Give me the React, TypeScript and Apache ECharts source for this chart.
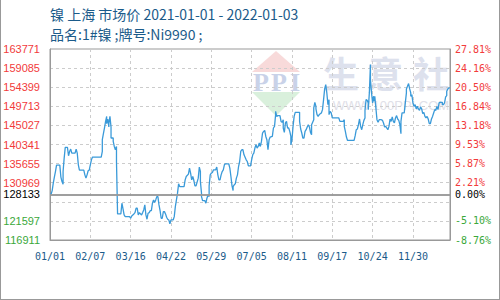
import React, { useEffect, useRef } from 'react';
import * as echarts from 'echarts';

const titleText = '镍 上海 市场价 2021-01-01 - 2022-01-03';
const subTitleText = '品名:1#镍 ;牌号:Ni9990 ;';
const startDate = [2021, 0, 1];
const totalDays = 368; // 2021-01-01 .. 2022-01-03
const yMin = 116911;
const yMax = 163771;
const yStep = 4686;
const labelEvery = 37;

// days since 2021-01-01
const dayOffsets = [
  0, 1, 2, 3, 4, 5, 6, 9, 10, 11, 12, 12, 13, 14, 16, 17, 18, 19, 20, 23, 24, 25, 26, 27, 31, 32, 33, 34, 35, 36, 37, 38, 39,
  47, 48, 48, 49, 50, 51, 52, 52, 53, 54, 54, 55, 56, 56, 58, 58, 59, 60, 61, 61, 62,
  65, 66, 67, 68, 69, 73, 74, 75, 77, 78, 79, 80, 81, 82, 84, 85, 86, 87, 88, 89, 90, 91, 92, 93, 94, 95, 96, 97, 98, 99,
  100, 101, 102, 103, 104, 105, 106, 107, 108, 109, 110, 111, 113, 114, 115, 116, 117, 118, 119, 123,
  124, 125, 127, 128, 129, 130, 131, 132, 133, 134, 136, 137, 138, 138, 139, 139, 140, 142, 143, 144, 145, 146, 146, 147,
  148, 149, 150, 152, 153, 154, 155, 156, 157, 158, 159, 160, 161, 164, 165, 166, 167, 168, 168, 169, 170, 171, 172, 173,
  174, 175, 176, 177, 178, 180, 181, 182, 184, 185, 186,
  187, 188, 189, 190, 191, 192, 193, 194, 195, 196, 197, 198, 199, 200, 201, 202, 204, 205, 206, 207, 207, 208, 209, 211,
  212, 213, 214, 214, 215, 216, 217, 218, 219, 220, 221, 221, 222, 223, 224, 225, 229, 229, 230, 231, 232, 233, 234, 235,
  236, 237, 238, 239, 240, 240, 242, 242, 243, 244, 244, 245, 246, 247, 248,
  249, 250, 251, 252, 253, 254, 255, 256, 256, 257, 258, 259, 265, 266, 269, 270, 270, 271, 272, 273, 279, 280, 281, 282,
  283, 284, 285, 286, 287, 288, 289, 289, 290, 291, 292, 292, 293, 294, 294, 295, 296, 296, 297, 297, 298, 299, 300, 301,
  302, 304, 305, 306, 307, 308, 310, 311, 312,
  313, 314, 315, 316, 317, 318, 319, 320, 321, 322, 322, 323, 325, 326, 327, 327, 328, 329, 330, 331, 331, 332, 333, 334,
  335, 336, 337, 338, 339, 340, 341, 342, 343, 344, 345, 346, 347, 348, 349, 350, 351, 352, 353, 354, 355, 356, 357, 358,
  360, 360, 361, 362, 363, 364, 364, 365, 366, 367,
];

const prices = [
  128133, 128133, 129040, 130860, 132340, 133710, 135290, 135290, 132340, 131250, 130610, 133710, 137010, 139620, 139620,
  137580, 138630, 139220, 138240, 138240, 139220, 138240, 135360, 134060, 134060, 132900, 132090, 132900, 133890, 134060,
  135360, 136590, 137260,
  137260, 138630, 141510, 142990, 144390, 146010, 147240, 145450, 146600, 144640, 145450, 147240, 144640, 141930, 141930,
  141090, 139860, 139050, 139860, 136170, 123310,
  123310, 125940, 124540, 123060, 122640, 122640, 122250, 122820, 123310, 123630, 124710, 124710, 123060, 123630, 123060,
  123630, 124290, 125520, 123060, 122000, 123480, 123630, 124120, 124120, 125940, 126750, 126090, 126750, 127560, 127560,
  125520, 124120, 122250, 122250, 123870, 123870, 123310, 122500, 122000, 121830, 120850, 121830, 121830, 122640, 125100,
  126750, 128400, 130690, 130020, 130020,
  131670, 132480, 133070, 134550, 133320, 131670, 132480, 131500, 130200, 130200, 132090, 134800, 133710, 131250, 128400,
  127560, 126580, 126580, 125940, 127170, 127980, 127560, 130200, 132900,
  133320, 133470, 134130, 134130, 134800, 132900, 131670, 131670, 132900, 133710, 134130, 135360, 135610, 135610, 134550,
  132480, 130200, 129040, 130020, 130440, 130690, 132090, 132900, 134940,
  136170, 138630, 139050, 139050, 137820, 136590, 136170, 135120, 135120, 136590, 137820,
  138240, 139470, 140280, 139470, 139860, 140700, 139860, 141090, 143160, 143550, 143800, 142320, 141510, 139050, 141510,
  142180, 142320, 144390, 144780, 147660, 148470, 147240, 147420, 147420,
  146010, 145770, 146430, 144390, 143310, 145620, 146010, 144390, 144390, 143550, 142320, 140280, 141510, 144780, 147240,
  148230, 148230, 146010, 144140, 143160, 141930, 141930, 143550, 143970,
  144640, 145200, 144640, 143310, 142740, 145200, 146430, 149310, 150690, 149700, 149060, 147660, 147240, 147660, 147910,
  148080, 148890, 151350, 153980, 155040, 152990, 150120, 151350, 147660, 148470, 148080, 146850, 146850, 146010, 146010,
  146430, 144780, 143550, 142180, 141340, 141340, 142500, 143970, 144140,
  145200, 146600, 144780, 143970, 145200, 146260, 146850, 148720, 151350, 151180, 150540, 148890, 153000, 159960, 156270,
  153000, 150540, 151350, 152160, 150930, 152160, 149310, 146430, 145770,
  146430, 146430, 146260, 145620, 144640, 144780, 143970, 144780, 146600,
  146010, 147100, 146010, 145620, 146850, 147420, 146600, 146260, 145200, 142990, 146010, 148080, 148080, 150540, 153000,
  153980, 154620, 155290, 153980, 153000, 152160, 152580, 150540, 149700,
  150120, 149060, 149700, 149060, 148720, 149560, 149060, 147910, 148230, 147240, 146850, 147240, 146600, 145450, 145450,
  146600, 147240, 148080, 148890, 148720, 149700, 148890, 150540, 150690,
  150690, 150120, 150120, 150540, 152020, 152340, 153390, 153980, 154230, 154230,
];

const UP = '#f23b3b';
const DOWN = '#3aa83a';
const AXIS = '#999999';
const GRIDLINE = '#cccccc';
const BLUE_TEXT = '#1b5b8a';

function buildCategories(): string[] {
  const t0 = Date.UTC(startDate[0], startDate[1], startDate[2]);
  const out: string[] = [];
  for (let i = 0; i < totalDays; i++) {
    const d = new Date(t0 + i * 86400000);
    const mm = String(d.getUTCMonth() + 1).padStart(2, '0');
    const dd = String(d.getUTCDate()).padStart(2, '0');
    out.push(`${mm}/${dd}`);
  }
  return out;
}

export default function App() {
  const ref = useRef<HTMLDivElement>(null);
  useEffect(() => {
    document.body.style.margin = '0';
    if (!ref.current) return;
    const chart = echarts.init(ref.current, undefined, { renderer: 'svg' });
    const base = prices[0];
    const categories = buildCategories();
    const seriesData = dayOffsets.map((d, i) => [d, prices[i]]);
    const nearBase = (v: number) => Math.abs(v - base) < yStep * 0.5;
    const pct = (v: number) => (((v - base) / base) * 100).toFixed(2) + '%';
    const labelColor = (v: any) => (Number(v) > base ? UP : DOWN);
    const center = { align: 'center', verticalAlign: 'middle', textAlign: 'center', textVerticalAlign: 'middle' };

    const option: any = {
      animation: false,
      backgroundColor: '#ffffff',
      title: {
        left: 50,
        top: 7,
        padding: 0,
        itemGap: 6,
        text: titleText,
        subtext: subTitleText,
        textStyle: { fontSize: 14, fontWeight: 'normal', color: BLUE_TEXT, fontFamily: 'Noto Sans CJK SC' },
        subtextStyle: { fontSize: 14, color: BLUE_TEXT, fontFamily: 'Noto Sans CJK SC' },
      },
      graphic: [
        { type: 'polygon', silent: true, z: 0, shape: { points: [[276, 51], [252, 72], [300, 72]] }, style: { fill: '#f8dada' } },
        { type: 'polygon', silent: true, z: 0, shape: { points: [[252, 92], [300, 92], [276, 116]] }, style: { fill: '#d9f0dc' } },
        ...['P', 'P', 'I'].map((ch, i) => ({
          type: 'text', silent: true, z: 0, x: [261, 279, 295][i], y: 82,
          style: { text: ch, fontSize: 26, fontWeight: 'bold', fontFamily: 'Liberation Serif', fill: '#c9d2e8', ...center },
        })),
        ...['生', '意', '社'].map((ch, i) => ({
          type: 'text', silent: true, z: 0, x: [341, 385, 431][i], y: 72,
          style: { text: ch, fontSize: 36, fontWeight: 'bold', fontFamily: 'Noto Sans CJK SC', fill: '#dde1ed', ...center },
        })),
        {
          type: 'text', silent: true, z: 0, x: 391, y: 105,
          style: { text: 'WWW.100PPI.COM', fontSize: 13, fontFamily: 'Liberation Sans', fill: '#e0e0e8', ...center },
        },
      ],
      grid: {
        left: 50, right: 50, top: 49, bottom: 60,
        show: true, borderColor: AXIS, borderWidth: 1, backgroundColor: 'transparent',
        containLabel: false, outerBoundsMode: 'none',
      },
      xAxis: {
        type: 'category',
        data: categories,
        boundaryGap: false,
        axisLine: { show: true, lineStyle: { color: AXIS, width: 1 } },
        axisTick: { show: false },
        axisLabel: {
          interval: labelEvery - 1, color: BLUE_TEXT, fontFamily: 'DejaVu Sans Mono', fontSize: 10, margin: 11,
        },
        splitLine: { show: true, interval: labelEvery - 1, lineStyle: { color: GRIDLINE, type: [3, 3] } },
      },
      yAxis: [
        {
          type: 'value', position: 'left', min: yMin, max: yMax, interval: yStep,
          axisLine: { show: true, lineStyle: { color: AXIS } },
          axisTick: { show: false },
          splitLine: { show: true, lineStyle: { color: GRIDLINE, type: [3, 3] } },
          axisLabel: {
            margin: 10, fontSize: 11, fontFamily: 'Liberation Sans', color: labelColor,
            formatter: (v: number) => (nearBase(v) ? '' : String(v)),
          },
        },
        {
          type: 'value', position: 'right', min: yMin, max: yMax, interval: yStep,
          axisLine: { show: true, lineStyle: { color: AXIS } },
          axisTick: { show: false },
          splitLine: { show: false },
          axisLabel: {
            margin: 5, fontSize: 10, fontFamily: 'DejaVu Sans Mono', color: labelColor,
            formatter: (v: number) => (nearBase(v) ? '' : pct(v)),
          },
        },
      ],
      series: [
        {
          type: 'line',
          data: seriesData,
          showSymbol: false,
          symbol: 'none',
          lineStyle: { color: '#3a9ad9', width: 1.3 },
          z: 3,
          markLine: {
            silent: true,
            symbol: 'none',
            lineStyle: { color: AXIS, type: 'solid', width: 1.5 },
            data: [
              { yAxis: base, label: { show: true, position: 'start', distance: 10, formatter: String(base), color: '#000', fontSize: 11, fontFamily: 'Liberation Sans' } },
              { yAxis: base, label: { show: true, position: 'end', distance: 5, formatter: pct(base), color: '#000', fontSize: 10, fontFamily: 'DejaVu Sans Mono' } },
            ],
          },
        },
      ],
    };
    chart.setOption(option);
    return () => chart.dispose();
  }, []);

  return (
    <div style={{ position: 'relative', width: 500, height: 300 }}>
      <div ref={ref} style={{ width: 500, height: 300 }} />
      <div
        style={{
          position: 'absolute', left: 0, top: 0, width: 500, height: 300, boxSizing: 'border-box',
          borderLeft: '1px solid #999', borderRight: '1px solid #999', borderBottom: '1px solid #999',
          pointerEvents: 'none',
        }}
      />
    </div>
  );
}
